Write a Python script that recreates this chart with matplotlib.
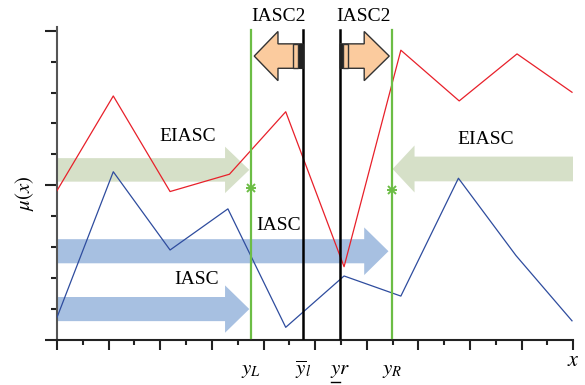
import matplotlib
matplotlib.use("Agg")
import matplotlib.pyplot as plt
from matplotlib.patches import FancyArrow, Rectangle

plt.rcParams['font.family'] = ['Liberation Serif', 'DejaVu Serif']
plt.rcParams['mathtext.fontset'] = 'stix'

# Data
red_x = [0.0, 2.18, 4.38, 6.68, 8.86, 11.12, 13.32, 15.58, 17.82, 19.95]
red_y = [4.83, 7.89, 4.80, 5.36, 7.38, 2.37, 9.37, 7.73, 9.25, 8.01]
blue_x = [0.0, 2.18, 4.38, 6.62, 8.86, 11.12, 13.32, 15.55, 17.78, 19.95]
blue_y = [0.73, 5.44, 2.91, 4.24, 0.41, 2.07, 1.42, 5.23, 2.73, 0.62]

green_lines = [7.5, 12.97]
black_lines = [9.52, 10.97]
star_y = [4.92, 4.85]
xlabels_pos = [7.5, 9.52, 10.97, 12.97]
xlabels_txt = [r"$y_L$", r"$\overline{y}_l$", r"$yr$", r"$y_R$"]

fig = plt.figure(figsize=(5.85, 3.85), dpi=100)
ax = fig.add_axes([57/585, 45/385, (573.3-57)/585, (340-27)/385])
ax.set_xlim(0, 20)
ax.set_ylim(0, 10.12)

# Arrows
green_arrow = '#d6e0c8'
blue_arrow = '#a7c0e1'
orange = '#fbcb9e'

ax.add_patch(FancyArrow(0, 5.5, 7.45, 0, width=0.76, head_width=1.5, head_length=0.94,
                        length_includes_head=True, color=green_arrow, lw=0, zorder=1))
ax.add_patch(FancyArrow(20, 5.53, 13.0 - 20, 0, width=0.8, head_width=1.52, head_length=0.85,
                        length_includes_head=True, color=green_arrow, lw=0, zorder=1))
ax.add_patch(FancyArrow(0, 2.87, 12.84, 0, width=0.78, head_width=1.54, head_length=0.94,
                        length_includes_head=True, color=blue_arrow, lw=0, zorder=1))
ax.add_patch(FancyArrow(0, 1.0, 7.45, 0, width=0.78, head_width=1.53, head_length=0.94,
                        length_includes_head=True, color=blue_arrow, lw=0, zorder=1))

# Lines
ax.plot(red_x, red_y, color='#e8202a', lw=0.9, zorder=3)
ax.plot(blue_x, blue_y, color='#2e4c9e', lw=0.9, zorder=3)

for gx in green_lines:
    ax.plot([gx, gx], [0.07, 10.02], color='#6cbd45', lw=1.6, zorder=4)
for bx in black_lines:
    ax.plot([bx, bx], [0.07, 10.02], color='black', lw=1.8, zorder=4)
# asterisk-like markers
ax.plot(green_lines, star_y, ls='none', marker='+', ms=7, mew=1.4, color='#6cbd45', zorder=5)
ax.plot(green_lines, star_y, ls='none', marker='x', ms=5.5, mew=1.4, color='#6cbd45', zorder=5)

# Orange IASC2 arrows
ax.add_patch(FancyArrow(9.52, 9.18, 7.64 - 9.52, 0, width=0.79, head_width=1.59, head_length=0.92,
                        length_includes_head=True, facecolor=orange, edgecolor='#333333',
                        lw=1.0, zorder=5))
ax.add_patch(FancyArrow(10.97, 9.18, 12.87 - 10.97, 0, width=0.79, head_width=1.59, head_length=0.97,
                        length_includes_head=True, facecolor=orange, edgecolor='#333333',
                        lw=1.0, zorder=5))
# stripes near tails
ax.add_patch(Rectangle((9.14, 9.18 - 0.395), 0.2, 0.79, facecolor=orange, edgecolor='#333333', lw=1.0, zorder=6))
ax.add_patch(Rectangle((9.38, 9.18 - 0.395), 0.14, 0.79, facecolor='#222222', edgecolor='#222222', lw=0.8, zorder=6))
ax.add_patch(Rectangle((10.97, 9.18 - 0.395), 0.12, 0.79, facecolor='#222222', edgecolor='#222222', lw=0.8, zorder=6))
ax.add_patch(Rectangle((11.09, 9.18 - 0.395), 0.2, 0.79, facecolor=orange, edgecolor='#333333', lw=1.0, zorder=6))

# Texts
fs = 14
ax.text(5.08, 6.57, "EIASC", fontsize=fs, ha='center', va='center', zorder=7)
ax.text(16.6, 6.49, "EIASC", fontsize=fs, ha='center', va='center', zorder=7)
ax.text(8.6, 3.69, "IASC", fontsize=fs, ha='center', va='center', zorder=7)
ax.text(5.41, 1.96, "IASC", fontsize=fs, ha='center', va='center', zorder=7)
ax.text(8.6, 10.45, "IASC2", fontsize=fs, ha='center', va='center', zorder=7, clip_on=False)
ax.text(11.87, 10.45, "IASC2", fontsize=fs, ha='center', va='center', zorder=7, clip_on=False)

for xp, t in zip(xlabels_pos, xlabels_txt):
    ax.text(xp, -0.97, t, fontsize=15, ha='center', va='center', clip_on=False)
# underline under the y of "yr"
ax.plot([10.62, 10.95], [-1.37, -1.37], color='black', lw=1.0, clip_on=False)
ax.text(20, -0.71, r"$x$", fontsize=16, ha='center', va='center', clip_on=False)
ax.text(-1.24, 4.75, r"$\mu(x)$", fontsize=15, ha='center', va='center', rotation=90, clip_on=False)

# Axes styling
for s in ['top', 'right']:
    ax.spines[s].set_visible(False)
ax.spines['left'].set_color('#555555')
ax.spines['left'].set_linewidth(1.5)
ax.spines['bottom'].set_color('#222222')
ax.spines['bottom'].set_linewidth(1.5)

ax.set_xticks(range(0, 21, 2))
ax.set_xticks(range(1, 21, 2), minor=True)
ax.set_yticks([0, 5, 10])
ax.set_yticks([1, 2, 3, 4, 6, 7, 8, 9], minor=True)
ax.set_xticklabels([])
ax.set_yticklabels([])
ax.tick_params(axis='x', which='major', direction='out', length=7.2, width=1.5, color='#222222')
ax.tick_params(axis='x', which='minor', direction='out', length=3.6, width=1.5, color='#222222')
ax.tick_params(axis='y', which='major', direction='out', length=8.6, width=1.5, color='#222222')
ax.tick_params(axis='y', which='minor', direction='out', length=4.3, width=1.5, color='#222222')

fig.savefig("out.png", dpi=100)
